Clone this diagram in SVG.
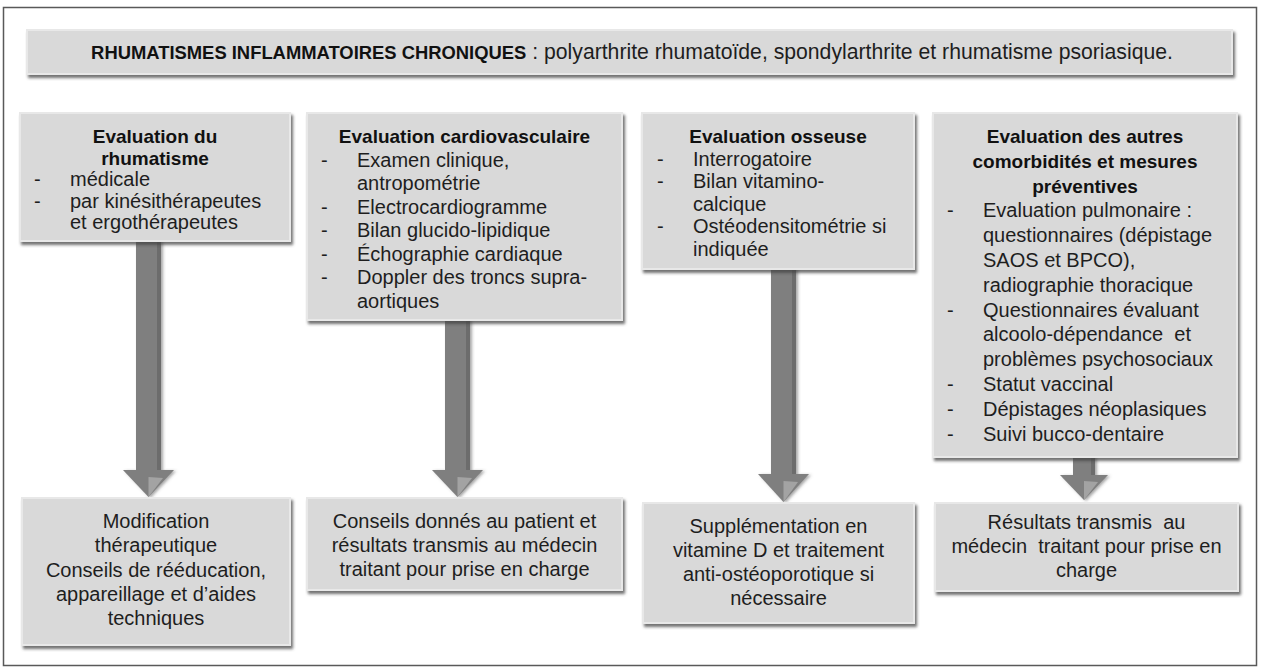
<svg xmlns="http://www.w3.org/2000/svg" width="1261" height="669" viewBox="0 0 1261 669">
<defs>
<style>
.box{fill:#d9d9d9;stroke:#e8e8e8;stroke-width:2;filter:url(#sh)}
.t{font-family:"Liberation Sans",Arial,sans-serif;font-size:20px;fill:#1e1e1e}
.b{font-family:"Liberation Sans",Arial,sans-serif;font-size:19px;font-weight:bold;fill:#111}
.c{text-anchor:middle}
.pre{white-space:pre}
.shaft{fill:#7f7f7f}
.shaftedge{fill:#6c6c6c}
.head{fill:#7f7f7f}
.facet{fill:#a3a3a3}
</style>
<filter id="sh" x="-5%" y="-5%" width="115%" height="120%">
<feDropShadow dx="2" dy="3" stdDeviation="1.8" flood-color="#404040" flood-opacity="0.75"/>
</filter>
<filter id="ash" x="-30%" y="-5%" width="170%" height="115%">
<feDropShadow dx="2" dy="1" stdDeviation="1.5" flood-color="#505050" flood-opacity="0.5"/>
</filter>
</defs>
<rect x="3.5" y="7.5" width="1253" height="658" fill="#ffffff" stroke="#595959" stroke-width="1.5"/>

<g id="connectors" filter="url(#ash)">
<g id="arrow1">
<rect class="shaft" x="136" y="238" width="25" height="234"/>
<rect class="shaftedge" x="157" y="238" width="4" height="234"/>
<polygon class="head" points="123,470 174,470 148.5,497"/>
<polygon class="facet" points="148.5,477 163,478 148.5,497"/>
</g>
<g id="arrow2">
<rect class="shaft" x="445" y="318" width="25" height="154"/>
<rect class="shaftedge" x="466" y="318" width="4" height="154"/>
<polygon class="head" points="432,470 483,470 457.5,497"/>
<polygon class="facet" points="457.5,477 472,478 457.5,497"/>
</g>
<g id="arrow3">
<rect class="shaft" x="771" y="267" width="25" height="208"/>
<rect class="shaftedge" x="792" y="267" width="4" height="208"/>
<polygon class="head" points="758,474 809,474 783.5,502"/>
<polygon class="facet" points="783.5,481 798,482 783.5,502"/>
</g>
<g id="arrow4">
<rect class="shaft" x="1073" y="455" width="22" height="22"/>
<rect class="shaftedge" x="1091" y="455" width="4" height="22"/>
<polygon class="head" points="1060,475 1108,475 1084,500"/>
<polygon class="facet" points="1084,481 1098,482 1084,500"/>
</g>
</g>

<g id="header">
<rect class="box" x="27" y="30" width="1205" height="44"/>
<text class="t c" x="632" y="59"><tspan font-weight="bold" font-size="18.4" fill="#111">RHUMATISMES INFLAMMATOIRES CHRONIQUES</tspan><tspan font-size="21.2"> : polyarthrite rhumatoïde, spondylarthrite et rhumatisme psoriasique.</tspan></text>
</g>

<g id="eval-rhumatisme">
<rect class="box" x="20" y="113" width="270" height="128"/>
<text class="b c" x="155" y="143">Evaluation du</text>
<text class="b c" x="155" y="164.5">rhumatisme</text>
<text class="t" x="34" y="186">-</text><text class="t" x="70" y="186">médicale</text>
<text class="t" x="34" y="207.5">-</text><text class="t" x="70" y="207.5">par kinésithérapeutes</text>
<text class="t" x="70" y="229">et ergothérapeutes</text>
</g>

<g id="eval-cardio">
<rect class="box" x="307" y="113" width="315" height="207"/>
<text class="b c" x="464.5" y="143">Evaluation cardiovasculaire</text>
<text class="t" x="321" y="166.5">-</text><text class="t" x="357" y="166.5">Examen clinique,</text>
<text class="t" x="357" y="190">antropométrie</text>
<text class="t" x="321" y="213.5">-</text><text class="t" x="357" y="213.5">Electrocardiogramme</text>
<text class="t" x="321" y="237">-</text><text class="t" x="357" y="237">Bilan glucido-lipidique</text>
<text class="t" x="321" y="260.5">-</text><text class="t" x="357" y="260.5">Échographie cardiaque</text>
<text class="t" x="321" y="284">-</text><text class="t" x="357" y="284">Doppler des troncs supra-</text>
<text class="t" x="357" y="307.5">aortiques</text>
</g>

<g id="eval-osseuse">
<rect class="box" x="642" y="113" width="272" height="156"/>
<text class="b c" x="778" y="143">Evaluation osseuse</text>
<text class="t" x="657" y="165.5">-</text><text class="t" x="693" y="165.5">Interrogatoire</text>
<text class="t" x="657" y="188">-</text><text class="t" x="693" y="188">Bilan vitamino-</text>
<text class="t" x="693" y="210.5">calcique</text>
<text class="t" x="657" y="233">-</text><text class="t" x="693" y="233">Ostéodensitométrie si</text>
<text class="t" x="693" y="255.5">indiquée</text>
</g>

<g id="eval-autres">
<rect class="box" x="933" y="113" width="304" height="344"/>
<text class="b c" x="1085" y="143">Evaluation des autres</text>
<text class="b c" x="1085" y="167.8">comorbidités et mesures</text>
<text class="b c" x="1085" y="192.6">préventives</text>
<text class="t" x="947" y="217.4">-</text><text class="t" x="983" y="217.4">Evaluation pulmonaire :</text>
<text class="t" x="983" y="242.2">questionnaires (dépistage</text>
<text class="t" x="983" y="267">SAOS et BPCO),</text>
<text class="t" x="983" y="291.8">radiographie thoracique</text>
<text class="t" x="947" y="316.6">-</text><text class="t" x="983" y="316.6">Questionnaires évaluant</text>
<text class="t pre" x="983" y="341.4">alcoolo-dépendance  et</text>
<text class="t" x="983" y="366.2">problèmes psychosociaux</text>
<text class="t" x="947" y="391">-</text><text class="t" x="983" y="391">Statut vaccinal</text>
<text class="t" x="947" y="415.8">-</text><text class="t" x="983" y="415.8">Dépistages néoplasiques</text>
<text class="t" x="947" y="440.6">-</text><text class="t" x="983" y="440.6">Suivi bucco-dentaire</text>
</g>

<g id="result-rhumatisme">
<rect class="box" x="22" y="498" width="268" height="147"/>
<text class="t c" x="156" y="528">Modification</text>
<text class="t c" x="156" y="552.3">thérapeutique</text>
<text class="t c" x="156" y="576.6">Conseils de rééducation,</text>
<text class="t c" x="156" y="600.9">appareillage et d’aides</text>
<text class="t c" x="156" y="625.2">techniques</text>
</g>

<g id="result-cardio">
<rect class="box" x="307" y="498" width="315" height="92"/>
<text class="t c" x="464.5" y="528">Conseils donnés au patient et</text>
<text class="t c" x="464.5" y="552">résultats transmis au médecin</text>
<text class="t c" x="464.5" y="576">traitant pour prise en charge</text>
</g>

<g id="result-osseuse">
<rect class="box" x="643" y="503" width="271" height="120"/>
<text class="t c" x="778.5" y="533">Supplémentation en</text>
<text class="t c" x="778.5" y="557">vitamine D et traitement</text>
<text class="t c" x="778.5" y="581">anti-ostéoporotique si</text>
<text class="t c" x="778.5" y="605">nécessaire</text>
</g>

<g id="result-autres">
<rect class="box" x="935" y="503" width="303" height="88"/>
<text class="t c pre" x="1086.5" y="529">Résultats transmis  au</text>
<text class="t c pre" x="1086.5" y="553">médecin  traitant pour prise en</text>
<text class="t c" x="1086.5" y="577">charge</text>
</g>
</svg>
